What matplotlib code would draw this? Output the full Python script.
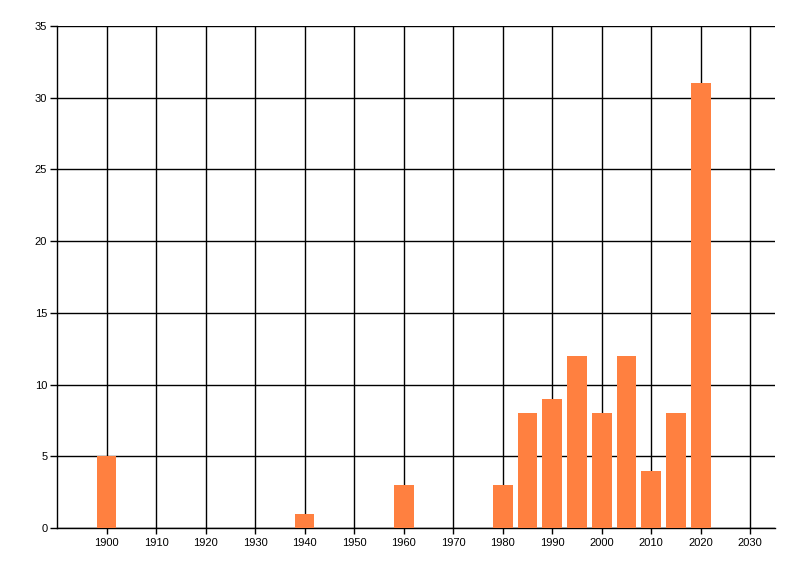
import matplotlib
matplotlib.use("Agg")
import matplotlib.pyplot as plt

years = [1900, 1940, 1960, 1980, 1985, 1990, 1995, 2000, 2005, 2010, 2015, 2020]
counts = [5, 1, 3, 3, 8, 9, 12, 8, 12, 4, 8, 31]
x_ticks = list(range(1900, 2031, 10))
y_ticks = list(range(0, 36, 5))

plt.rcParams['font.family'] = ['Liberation Sans', 'DejaVu Sans']
fig = plt.figure(figsize=(8, 5.76), dpi=100)
ax = fig.add_axes([57/800, 1-528/576, (775-57)/800, (528-26)/576])

ax.bar(years, counts, width=4.0, color='#FF8040', zorder=3)

ax.set_xlim(1890, 2035)
ax.set_ylim(0, 35)
ax.set_xticks(x_ticks)
ax.set_yticks(y_ticks)
ax.set_xticklabels([str(t) for t in x_ticks], fontsize=8)
ax.set_yticklabels([str(t) for t in y_ticks], fontsize=8)
ax.grid(True, color='black', linewidth=1.0, zorder=1)
ax.set_axisbelow(True)
for s in ['top', 'right']:
    ax.spines[s].set_visible(False)
for s in ['left', 'bottom']:
    ax.spines[s].set_linewidth(1.0)
    ax.spines[s].set_color('black')
ax.tick_params(axis='x', length=4.5, width=1.0, pad=2.5)
ax.tick_params(axis='y', length=5, width=1.0, pad=2)

fig.savefig('out.png', dpi=100, facecolor='white')
